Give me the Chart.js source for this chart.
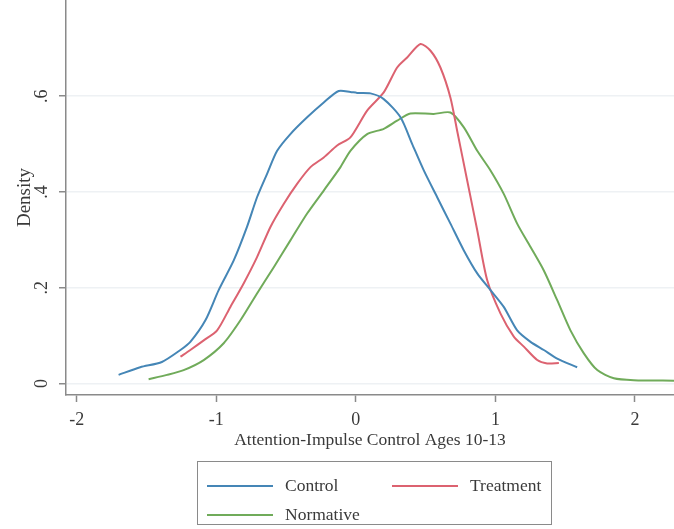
<!DOCTYPE html>
<html>
<head>
<meta charset="utf-8">
<script src="https://cdn.jsdelivr.net/npm/chart.js@4/dist/chart.umd.min.js"></script>
<style>
  html, body { margin: 0; padding: 0; background: #fff; }
  #wrap { width: 674px; height: 529px; }
</style>
</head>
<body>
<div id="wrap"><canvas id="chart" width="674" height="529"></canvas></div>
<script>
// kernel density estimates, read as (x, density) pairs
const controlX = [-1.70, -1.545, -1.39, -1.257, -1.186, -1.078, -0.983, -0.875, -0.78, -0.708, -0.636, -0.564, -0.469, -0.349, -0.23, -0.123, -0.039, 0.009, 0.105, 0.2, 0.32, 0.404, 0.487, 0.583, 0.678, 0.774, 0.87, 0.965, 1.06, 1.156, 1.252, 1.347, 1.443, 1.586];
const controlY = [0.018, 0.034, 0.045, 0.07, 0.087, 0.132, 0.195, 0.257, 0.327, 0.389, 0.438, 0.486, 0.521, 0.556, 0.587, 0.611, 0.609, 0.607, 0.606, 0.594, 0.556, 0.50, 0.445, 0.389, 0.334, 0.278, 0.23, 0.195, 0.16, 0.111, 0.087, 0.07, 0.052, 0.034];

const treatX = [-1.257, -1.186, -1.09, -0.994, -0.899, -0.804, -0.708, -0.612, -0.517, -0.421, -0.325, -0.23, -0.134, -0.039, 0.081, 0.2, 0.296, 0.368, 0.463, 0.535, 0.606, 0.678, 0.726, 0.798, 0.87, 0.941, 1.037, 1.132, 1.204, 1.30, 1.371, 1.455];
const treatY = [0.056, 0.07, 0.09, 0.111, 0.16, 0.209, 0.264, 0.327, 0.375, 0.417, 0.452, 0.472, 0.497, 0.514, 0.57, 0.608, 0.66, 0.681, 0.709, 0.695, 0.66, 0.597, 0.528, 0.424, 0.32, 0.216, 0.146, 0.098, 0.077, 0.049, 0.042, 0.043];

const normX = [-1.485, -1.353, -1.234, -1.09, -0.947, -0.827, -0.708, -0.588, -0.469, -0.349, -0.23, -0.11, -0.039, 0.081, 0.2, 0.296, 0.391, 0.558, 0.678, 0.774, 0.87, 0.965, 1.06, 1.156, 1.252, 1.347, 1.443, 1.538, 1.634, 1.73, 1.849, 1.992, 2.28];
const normY = [0.009, 0.018, 0.028, 0.049, 0.084, 0.132, 0.188, 0.243, 0.299, 0.355, 0.403, 0.452, 0.486, 0.521, 0.532, 0.549, 0.564, 0.563, 0.566, 0.535, 0.486, 0.445, 0.396, 0.334, 0.285, 0.236, 0.174, 0.111, 0.063, 0.028, 0.011, 0.007, 0.006];

const xTicks = [-2, -1, 0, 1, 2];
const yTicks = [0, 0.2, 0.4, 0.6];

const seriesNames = ["Control", "Treatment", "Normative"];
const seriesColors = ["#4586b6", "#dc6270", "#70ab5a"];

const serif = "'Liberation Serif', 'DejaVu Serif', serif";
const axisGray = "#8a8a8a";
const textColor = "#3a3a3a";

function pairUp(xs, ys) {
  return xs.map((x, i) => ({ x: x, y: ys[i] }));
}

function yLabel(v) {
  return v === 0 ? "0" : v.toFixed(1).replace(/^0/, "");
}

// y labels are drawn turned on their side, plus the boxed legend under the axis
const extras = {
  id: "extras",
  afterDraw(chart) {
    const ctx = chart.ctx;
    const yScale = chart.scales.y;
    ctx.save();
    ctx.fillStyle = textColor;
    ctx.font = "18px " + serif;
    ctx.textAlign = "center";
    ctx.textBaseline = "middle";
    yTicks.forEach((v) => {
      const py = yScale.getPixelForValue(v);
      ctx.save();
      ctx.translate(42, py);
      ctx.rotate(-Math.PI / 2);
      ctx.fillText(yLabel(v), 0, 0);
      ctx.restore();
    });

    // legend box
    ctx.strokeStyle = axisGray;
    ctx.lineWidth = 1;
    ctx.strokeRect(197.5, 461.5, 354, 63);
    const items = [
      { x: 207, y: 486, tx: 285 },
      { x: 392, y: 486, tx: 470 },
      { x: 207, y: 515, tx: 285 },
    ];
    ctx.font = "17.5px " + serif;
    ctx.textAlign = "left";
    items.forEach((it, i) => {
      ctx.strokeStyle = seriesColors[i];
      ctx.lineWidth = 2;
      ctx.beginPath();
      ctx.moveTo(it.x, it.y);
      ctx.lineTo(it.x + 66, it.y);
      ctx.stroke();
      ctx.fillStyle = textColor;
      ctx.fillText(seriesNames[i], it.tx, it.y);
    });
    ctx.restore();
  },
};

const datasets = [
  pairUp(controlX, controlY),
  pairUp(treatX, treatY),
  pairUp(normX, normY),
].map((pts, i) => ({
  label: seriesNames[i],
  data: pts,
  borderColor: seriesColors[i],
  borderWidth: 2,
  pointRadius: 0,
  tension: 0.25,
  fill: false,
}));

new Chart(document.getElementById("chart"), {
  type: "line",
  data: { datasets },
  options: {
    responsive: false,
    animation: false,
    layout: { padding: { left: 0, right: 0, top: 0, bottom: 78 } },
    plugins: {
      legend: { display: false },
      tooltip: { enabled: false },
    },
    scales: {
      x: {
        type: "linear",
        min: -2.077,
        max: 2.28,
        afterFit: (s) => { s.height = 56; },
        afterBuildTicks: (s) => { s.ticks = xTicks.map((v) => ({ value: v })); },
        border: { color: axisGray, width: 1.5 },
        grid: { color: "transparent", tickColor: axisGray, tickLength: 7, tickWidth: 1.5 },
        ticks: {
          color: textColor,
          font: { family: serif, size: 18 },
          padding: 7,
          maxRotation: 0,
          callback: (v) => String(v),
        },
        title: {
          display: true,
          text: "Attention-Impulse Control Ages 10-13",
          color: textColor,
          font: { family: serif, size: 17.5 },
          padding: { top: 0, bottom: 0 },
        },
      },
      y: {
        min: -0.024,
        max: 0.801,
        afterFit: (s) => { s.width = 66; },
        afterBuildTicks: (s) => { s.ticks = yTicks.map((v) => ({ value: v })); },
        border: { color: axisGray, width: 1.5 },
        grid: { color: "#eef1f4", lineWidth: 1.5, tickColor: axisGray, tickLength: 7, tickWidth: 1.5 },
        ticks: { display: false },
        title: {
          display: true,
          text: "Density",
          color: textColor,
          font: { family: serif, size: 19 },
          padding: { top: 14, bottom: 0 },
        },
      },
    },
  },
  plugins: [extras],
});
</script>
</body>
</html>
